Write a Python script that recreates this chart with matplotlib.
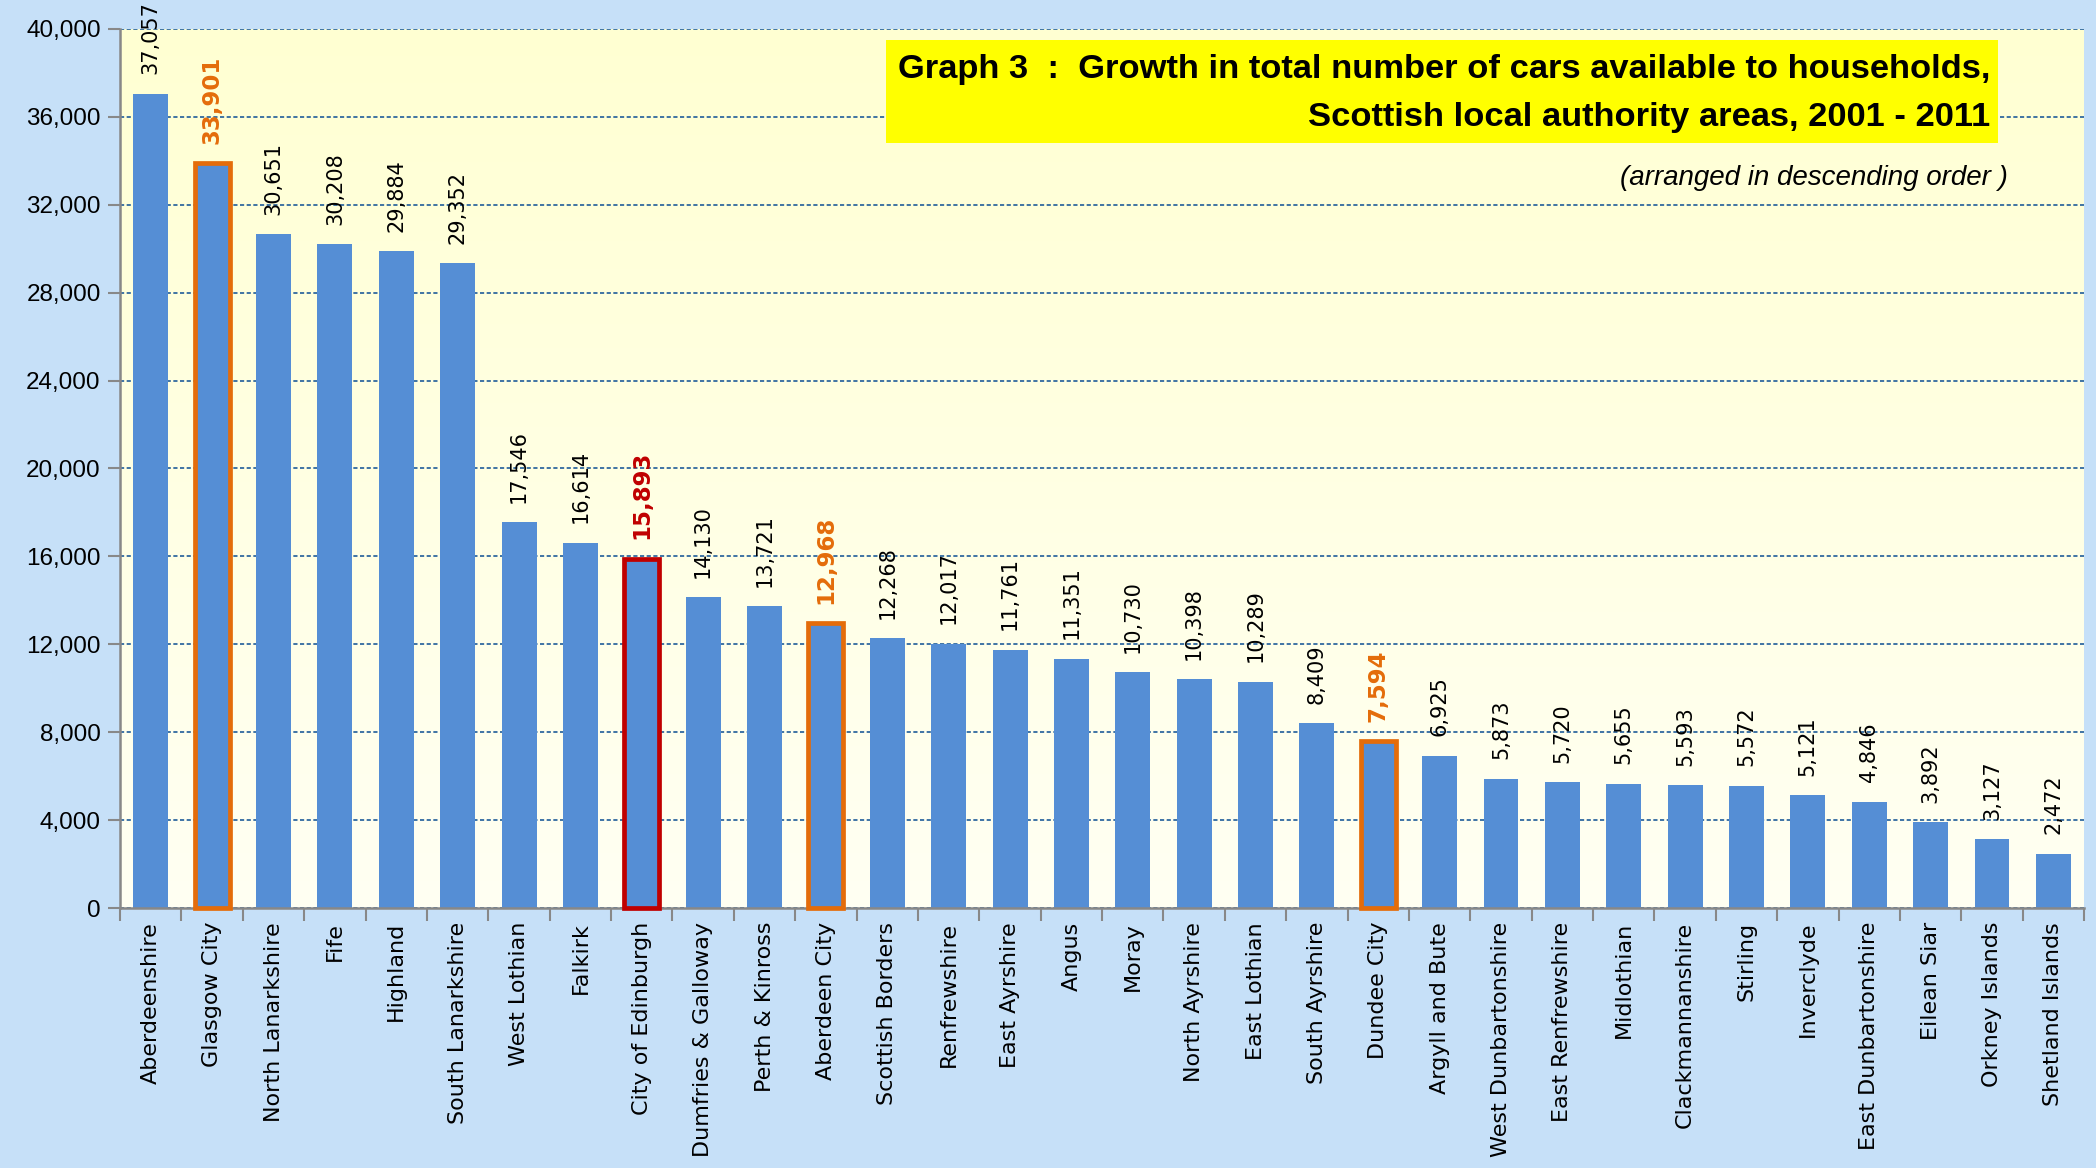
import numpy as np
import matplotlib
matplotlib.use("Agg")
import matplotlib.pyplot as plt
from matplotlib.patches import Rectangle
from matplotlib.ticker import FuncFormatter, MultipleLocator

# growth in cars 2001-2011, by council area
areas = ["Aberdeenshire", "Glasgow City", "North Lanarkshire", "Fife", "Highland",
         "South Lanarkshire", "West Lothian", "Falkirk", "City of Edinburgh",
         "Dumfries & Galloway", "Perth & Kinross", "Aberdeen City", "Scottish Borders",
         "Renfrewshire", "East Ayrshire", "Angus", "Moray", "North Ayrshire",
         "East Lothian", "South Ayrshire", "Dundee City", "Argyll and Bute",
         "West Dunbartonshire", "East Renfrewshire", "Midlothian", "Clackmannanshire",
         "Stirling", "Inverclyde", "East Dunbartonshire", "Eilean Siar",
         "Orkney Islands", "Shetland Islands"]
growth = [37057, 33901, 30651, 30208, 29884, 29352, 17546, 16614, 15893,
          14130, 13721, 12968, 12268, 12017, 11761, 11351, 10730, 10398,
          10289, 8409, 7594, 6925, 5873, 5720, 5655, 5593, 5572, 5121,
          4846, 3892, 3127, 2472]
# the cities picked out with a coloured outline
highlight = {"Glasgow City": "#E46C0A", "Aberdeen City": "#E46C0A",
             "Dundee City": "#E46C0A", "City of Edinburgh": "#C00000"}

narrow = ["Liberation Sans Narrow", "Liberation Sans", "DejaVu Sans"]

fig = plt.figure(figsize=(20.96, 11.68), dpi=100)
fig.patch.set_facecolor("#C6E0F8")
ax = fig.add_axes([0.0573, 0.2226, 0.937, 0.7526])

# pale yellow gradient behind the bars
grad = np.linspace(0, 1, 256).reshape(-1, 1)
cmap = matplotlib.colors.LinearSegmentedColormap.from_list("bg", ["#FFFFF3", "#FFFFD2"])
ax.imshow(grad, extent=[0, 1, 0, 1], transform=ax.transAxes, origin="lower",
          cmap=cmap, aspect="auto", zorder=0)

x = np.arange(len(areas))
ax.bar(x, growth, width=0.57, color="#558ED5", zorder=2)

for i in range(len(areas)):
    col = highlight.get(areas[i])
    if col:
        ax.bar(x[i], growth[i], width=0.57, facecolor="none", edgecolor=col,
               linewidth=3.4, zorder=3, clip_on=False)
        ax.annotate(f"{growth[i]:,}", (x[i], growth[i]), xytext=(0, 14),
                    textcoords="offset points", rotation=90, ha="center", va="bottom",
                    fontsize=16.5, fontweight="bold", color=col, zorder=4)
    else:
        ax.annotate(f"{growth[i]:,}", (x[i], growth[i]), xytext=(0, 14),
                    textcoords="offset points", rotation=90, ha="center", va="bottom",
                    fontsize=15, color="black", zorder=4)

ax.set_xlim(-0.5, len(areas) - 0.5)
ax.set_ylim(0, 40000)
ax.yaxis.set_major_locator(MultipleLocator(4000))
ax.yaxis.set_major_formatter(FuncFormatter(lambda v, p: f"{int(v):,}"))
ax.grid(axis="y", color="#1F5C99", linestyle=(0, (2.5, 1.5)), linewidth=1.2, zorder=1)

ax.set_xticks(x)
ax.set_xticklabels(areas, rotation=90, fontsize=16)
ax.set_xticks(np.arange(len(areas) + 1) - 0.5, minor=True)
ax.tick_params(axis="x", which="major", length=0, pad=10)
ax.tick_params(axis="x", which="minor", length=9, width=1.5, color="#888888")
ax.tick_params(axis="y", length=9, width=1.5, color="#888888", pad=5)
for lab in ax.get_yticklabels():
    lab.set_family(narrow)
    lab.set_fontsize(17.5)

for s in ["top", "right"]:
    ax.spines[s].set_visible(False)
for s in ["left", "bottom"]:
    ax.spines[s].set_color("#888888")
    ax.spines[s].set_linewidth(1.8)

# title box
fig.patches.append(Rectangle((0.4227, 0.8776), 0.5305, 0.0882, transform=fig.transFigure,
                             facecolor="#FFFF00", edgecolor="none", zorder=5))
fig.text(0.9494, 0.9405, "Graph 3  :  Growth in total number of cars available to households,",
         ha="right", va="center", fontsize=24.8, fontweight="bold", family=narrow, zorder=6)
fig.text(0.9494, 0.8993, "Scottish local authority areas, 2001 - 2011",
         ha="right", va="center", fontsize=24.8, fontweight="bold", family=narrow, zorder=6)
fig.text(0.958, 0.8476, "(arranged in descending order )", ha="right", va="center",
         fontsize=20, style="italic", family=narrow, zorder=6)

plt.savefig("out.png", dpi=100, facecolor=fig.get_facecolor())
